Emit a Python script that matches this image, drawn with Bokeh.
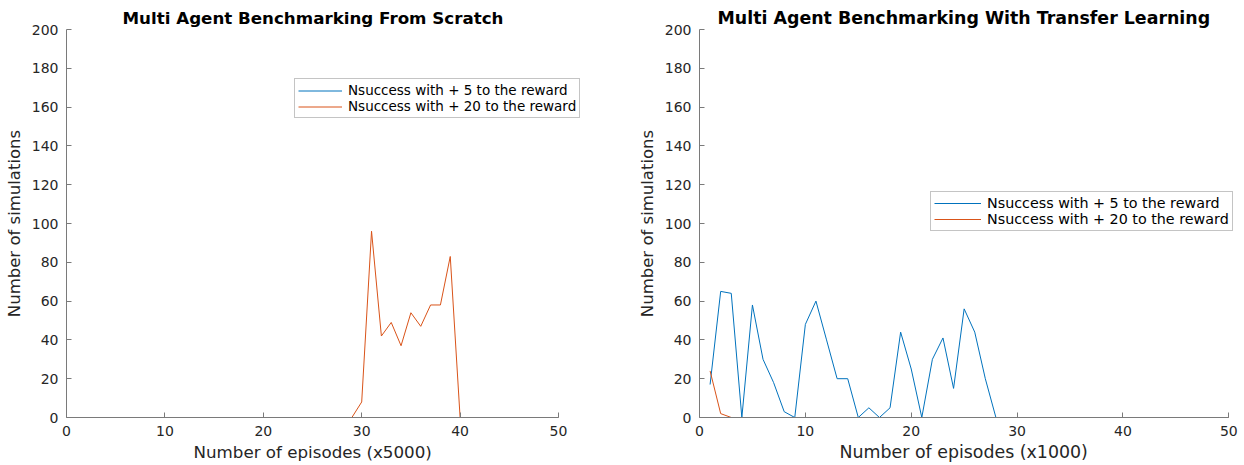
from bokeh.plotting import figure
from bokeh.models import Range1d, Legend, LegendItem, FixedTicker, Title
from bokeh.layouts import row
from bokeh.embed import file_html
from bokeh.resources import INLINE

# ---- data ----
x_left = list(range(1, 51))
left_plus5 = [0] * 50
left_plus20 = [0] * 28 + [0, 8, 96, 42, 49, 37, 54, 47, 58, 58, 83, 0] + [0] * 10

x_right = list(range(1, 51))
right_plus5 = [17, 65, 64, 0, 58, 30, 18, 3, 0, 48, 60, 40, 20, 20, 0, 5, 0, 5, 44, 25,
               0, 30, 41, 15, 56, 44, 20, 0] + [0] * 22
right_plus20 = [24, 2] + [0] * 48

x_ticks = [0, 10, 20, 30, 40, 50]
y_ticks = [0, 20, 40, 60, 80, 100, 120, 140, 160, 180, 200]

titles = ["Multi Agent Benchmarking From Scratch", "Multi Agent Benchmarking With Transfer Learning"]
xlabels = ["Number of episodes (x5000)", "Number of episodes (x1000)"]
ylabel = "Number of simulations"
legend_labels = ["Nsuccess with + 5 to the reward", "Nsuccess with + 20 to the reward"]

BLUE = "#0072BD"
ORANGE = "#D95319"
FONT = "DejaVu Sans"
TXT = "#262626"
AX = "#7a7a7a"
H = 465


def make(width, bl, br, x_end, title, t_size, t_off, xlabel, xl_size, xl_off,
         xs, s1, s2, leg_loc, leg_font, glyph_w, row_h):
    p = figure(width=width, height=H, x_range=Range1d(0, x_end), y_range=Range1d(0, 200),
               output_backend="svg", toolbar_location=None,
               min_border_left=bl, min_border_right=br, min_border_top=29, min_border_bottom=48)
    p.title.text = title
    p.title.align = "left"
    p.title.offset = t_off
    p.title.text_font = FONT
    p.title.text_font_size = t_size
    p.title.text_font_style = "bold"
    p.title.text_color = "#000000"
    p.title.standoff = 3
    p.outline_line_color = None
    p.grid.visible = False
    for ax in (p.xaxis[0], p.yaxis[0]):
        ax.axis_line_color = AX
        ax.major_tick_line_color = AX
        ax.major_tick_in = 5
        ax.major_tick_out = 0
        ax.minor_tick_line_color = None
        ax.major_label_text_font = FONT
        ax.major_label_text_font_size = "14px"
        ax.major_label_text_color = TXT
        ax.axis_label_text_font = FONT
        ax.axis_label_text_font_size = "16.5px"
        ax.axis_label_text_font_style = "normal"
        ax.axis_label_text_color = TXT
    p.xaxis.bounds = (0, 50)
    p.xaxis.ticker = FixedTicker(ticks=x_ticks)
    p.yaxis.ticker = FixedTicker(ticks=y_ticks)
    p.xaxis.major_label_standoff = 8
    p.yaxis.major_label_standoff = 8
    p.yaxis.axis_label_standoff = 5
    p.yaxis.axis_label = ylabel

    # x-axis label, centred on the 0..50 span rather than on the (wider) frame
    p.add_layout(Title(text=xlabel, align="left", offset=xl_off, text_font=FONT,
                       text_font_size=xl_size, text_font_style="normal", text_color=TXT,
                       standoff=2), "below")

    r1 = p.line(xs, s1, line_color=BLUE, line_width=1)
    r2 = p.line(xs, s2, line_color=ORANGE, line_width=1)
    leg = Legend(items=[LegendItem(label=legend_labels[0], renderers=[r1]),
                        LegendItem(label=legend_labels[1], renderers=[r2])],
                 location=leg_loc, orientation="vertical")
    leg.label_text_font = FONT
    leg.label_text_font_size = leg_font
    leg.label_text_color = "#000000"
    leg.glyph_width = glyph_w
    leg.glyph_height = row_h
    leg.label_height = row_h
    leg.label_standoff = 6
    leg.padding = 3
    leg.spacing = 0
    leg.margin = 0
    leg.border_line_color = "#8a8a8a"
    leg.border_line_width = 1
    leg.background_fill_color = "white"
    leg.background_fill_alpha = 1
    p.add_layout(leg, "center")
    return p


# left figure 0..630: frame 66..590 (0..50 maps to 66..558)
left = make(630, 66, 40, 50 * 524 / 492,
            titles[0], "16.7px", 56, xlabels[0], "16.7px", 127,
            x_left, left_plus5, left_plus20, (228, 299), "13.5px", 44, 15)
# right figure 630..1244: frame 699..1240 (0..50 maps to 699..1228.3)
right = make(614, 69, 4, 50 * 541 / 529.3,
             titles[1], "17.4px", 18, xlabels[1], "17.4px", 140,
             x_right, right_plus5, right_plus20, (231, 186), "14.3px", 47, 16)

layout = row(left, right)
open("out.html", "w").write(file_html(layout, INLINE))
